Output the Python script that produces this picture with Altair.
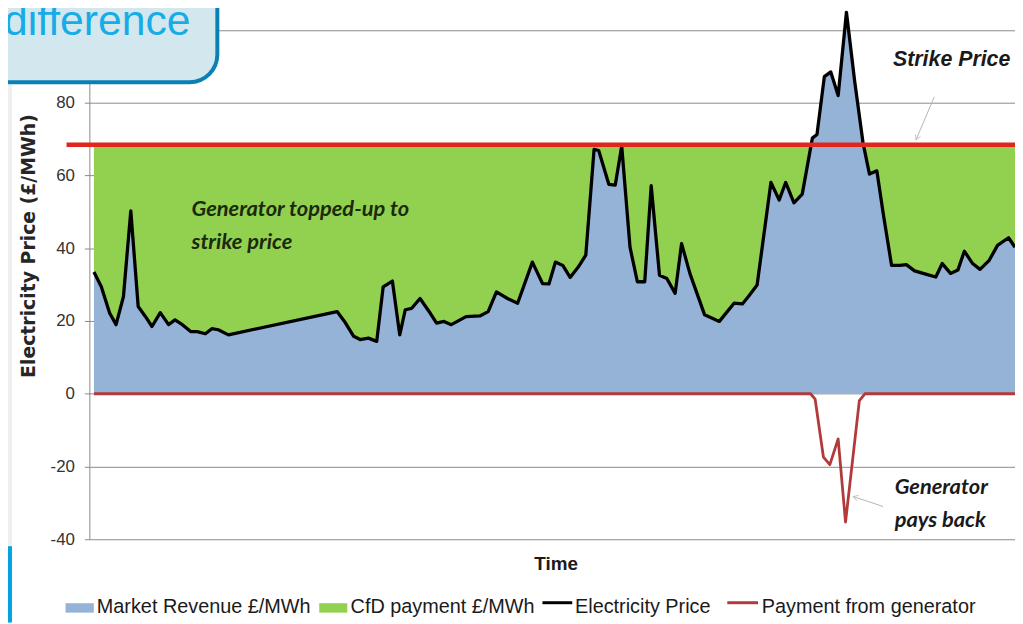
import altair as alt
import pandas as pd
import numpy as np

# ---------------- data ----------------
time = [0, 0.8, 1.7, 2.4, 3.2, 4.0, 4.8, 5.6, 6.3, 7.2, 8.1, 8.8, 9.6, 10.5, 11.2, 12.1, 12.8, 13.5, 14.6,
        26.4, 27.2, 28.2, 28.9, 29.8, 30.7, 31.4, 32.4, 33.2, 33.8,
        34.5, 35.4, 36.5, 37.2, 38.0, 38.8, 40.4, 41.9, 42.8, 43.7,
        44.9, 46.0, 47.6, 48.7, 49.4, 50.1, 50.9, 51.7, 52.6, 53.4,
        54.3, 54.8, 55.9, 56.6, 57.3, 58.2, 59.0, 59.8, 60.5, 61.4,
        62.2, 63.1, 63.8, 64.7, 66.3, 67.9, 69.5, 70.4, 71.1, 72.0,
        73.5, 74.4, 75.1, 76.0, 76.9, 78.0, 78.5, 79.3, 80.0, 80.8,
        81.7, 82.6, 83.5, 84.2, 85.0, 85.7, 86.6, 87.5, 88.2, 89.1,
        90.3, 91.4, 92.1, 93.0, 93.8, 94.5, 95.4, 96.2, 97.2, 98.1,
        99.3, 100.0]
price = [33.5, 29.4, 22.2, 19.0, 26.7, 50.3, 24.0, 21.2, 18.5, 22.3, 19.0, 20.3, 19.0, 17.1, 17.1, 16.5, 17.9, 17.6, 16.2,
         22.6, 19.9, 15.8, 14.9, 15.3, 14.4, 29.4, 31.0, 16.2, 23.1,
         23.5, 26.2, 22.2, 19.4, 19.9, 19.0, 21.2, 21.4, 22.6, 28.0,
         26.2, 24.9, 36.2, 30.3, 30.2, 36.2, 35.3, 32.0, 34.9, 38.1,
         67.2, 66.9, 57.6, 57.4, 68.1, 40.3, 30.8, 30.8, 57.2, 32.6,
         31.7, 27.6, 41.3, 33.1, 21.7, 19.9, 24.9, 24.7, 26.9, 29.9,
         58.1, 53.3, 58.1, 52.5, 54.9, 70.3, 71.3, 87.2, 88.5, 82.0,
         104.9, 85.8, 69.0, 60.4, 61.3, 49.4, 35.3, 35.3, 35.5, 33.8,
         32.9, 32.1, 35.8, 33.1, 34.0, 39.2, 35.8, 34.2, 36.7, 40.8,
         42.9, 40.3]
pay_time = [0, 77.8, 78.3, 79.2, 79.9, 80.8, 81.6, 83.1, 83.7, 100]
pay_value = [0, 0, -1.5, -17.4, -19.5, -12.4, -35.3, -1.9, 0, 0]
STRIKE = 68.5
y_ticks = [-40, -20, 0, 20, 40, 60, 80, 100]
legend_labels = ["Market Revenue £/MWh", "CfD payment £/MWh", "Electricity Price", "Payment from generator"]
legend_colors = ["#95B3D7", "#92D050", "#000000", "#B23A3A"]

# ---------------- layout / style ----------------
W, H = 933, 526
SANS = "Liberation Sans, Arial, sans-serif"
ANN = "Lato, Carlito, Liberation Sans, sans-serif"
GRID = "#8A8A8A"

df = pd.DataFrame({"t": time, "price": price})
df["strike"] = STRIKE
df["low"] = np.minimum(df["price"], STRIKE)
pay = pd.DataFrame({"t": pay_time, "pay": pay_value})
one = pd.DataFrame({"k": [0]})

xs = alt.Scale(domain=[-0.5, 100], nice=False, zero=False)
ys = alt.Scale(domain=[-40, 103.5], nice=False, zero=False)

x_axis = alt.Axis(title="Time", domain=False, ticks=False, labels=False, grid=False,
                  titleX=470, titleY=31, titleAlign="center", titleBaseline="alphabetic",
                  titleFont=SANS, titleFontSize=19, titleFontWeight="bold", titleColor="#1A1A1A")
y_axis = alt.Axis(values=y_ticks, grid=True, gridColor=GRID, gridWidth=1,
                  domainColor=GRID, domainWidth=1, tickColor=GRID, tickSize=5, tickWidth=1,
                  labelPadding=10, labelFont=SANS, labelFontSize=17, labelColor="#333333",
                  labelExpr="datum.value == 100 ? '' : '' + datum.value",
                  title="Electricity Price (£/MWh)", titleFont="DejaVu Sans", titleFontWeight="bold",
                  titleFontSize=19, titleColor="#262626", titleAngle=270, titleX=-61, titleY=230,
                  titleAlign="center", titleBaseline="middle")

def X(field):
    return alt.X(field, scale=xs, axis=x_axis)

def Y(field):
    return alt.Y(field, scale=ys, axis=y_axis)

green = alt.Chart(df).mark_area(color="#92D050", opacity=1).encode(
    x=X("t:Q"), y=Y("low:Q"), y2="strike:Q")
blue = alt.Chart(df).mark_area(color="#95B3D7", opacity=1).encode(
    x=X("t:Q"), y=Y("price:Q"), y2=alt.datum(0))
price_line = alt.Chart(df).mark_line(color="#000000", strokeWidth=3.3, strokeJoin="round").encode(
    x=X("t:Q"), y=Y("price:Q"))
pay_line = alt.Chart(pay).mark_line(color="#B23A3A", strokeWidth=2.8, strokeJoin="round").encode(
    x=X("t:Q"), y=Y("pay:Q"))
strike_rule = alt.Chart(pd.DataFrame({"s": [STRIKE]})).mark_rule(color="#E0261C", strokeWidth=4.5).encode(
    y=Y("s:Q"), x=alt.value(-23), x2=alt.value(W))

# callout box top-left
box = alt.Chart(one).mark_rect(fill="#D3E8EE", stroke="#0A80B4", strokeWidth=4, cornerRadius=28).encode(
    x=alt.value(-160), x2=alt.value(129), y=alt.value(-90), y2=alt.value(65.5))
box_text = alt.Chart(one).mark_text(text="difference", font=SANS, fontSize=43,
                                    color="#17ACE6", align="right", baseline="alphabetic").encode(
    x=alt.value(102), y=alt.value(18))
strip_gray = alt.Chart(one).mark_rect(color="#EFEFEF").encode(
    x=alt.value(-82), x2=alt.value(-78), y=alt.value(68), y2=alt.value(533))
strip_blue = alt.Chart(one).mark_rect(color="#00A3E0").encode(
    x=alt.value(-82), x2=alt.value(-78), y=alt.value(533), y2=alt.value(610))

def label(text, x, y, size, font=ANN, color="#1A1A1A"):
    return alt.Chart(one).mark_text(text=text, font=font, fontSize=size, fontStyle="italic",
                                    fontWeight="bold", color=color, align="left",
                                    baseline="middle").encode(x=alt.value(x), y=alt.value(y))

ann = [
    label("Generator topped-up to", 103, 193, 22, color="#1B2A0C"),
    label("strike price", 103, 226.7, 22, color="#1B2A0C"),
    label("Strike Price", 810, 43, 21.5, font=SANS),
    label("Generator", 811.7, 473, 22),
    label("pays back", 811.7, 506.7, 22),
]

ARROW = "#B4B4B4"
arrows = [
    alt.Chart(one).mark_rule(color=ARROW, strokeWidth=1).encode(
        x=alt.value(851.7), y=alt.value(80), x2=alt.value(833.3), y2=alt.value(123.3)),
    alt.Chart(one).mark_point(shape="M-0.6,1L0,0L0.6,1", filled=False, color=ARROW, size=90,
                              strokeWidth=1, angle=203).encode(x=alt.value(833.3), y=alt.value(123.3)),
    alt.Chart(one).mark_rule(color=ARROW, strokeWidth=1).encode(
        x=alt.value(800), y=alt.value(493), x2=alt.value(770), y2=alt.value(483)),
    alt.Chart(one).mark_point(shape="M-0.6,1L0,0L0.6,1", filled=False, color=ARROW, size=90,
                              strokeWidth=1, angle=288).encode(x=alt.value(770), y=alt.value(483)),
]

# legend (manual, bottom)
LEG_Y = 600
leg = []
sw = [(-24, 4.5), (231.7, 260)]
for i in range(2):
    leg.append(alt.Chart(one).mark_rect(color=legend_colors[i]).encode(
        x=alt.value(sw[i][0]), x2=alt.value(sw[i][1]), y=alt.value(590.5), y2=alt.value(LEG_Y)))
ln = [(456.7, 486.7), (643, 674)]
for i in range(2):
    leg.append(alt.Chart(one).mark_rule(color=legend_colors[i + 2], strokeWidth=3).encode(
        x=alt.value(ln[i][0]), x2=alt.value(ln[i][1]), y=alt.value(590), y2=alt.value(590)))
tx = [7.5, 263.3, 489.5, 677.7]
for i in range(4):
    leg.append(alt.Chart(one).mark_text(text=legend_labels[i], font=SANS, fontSize=20,
                                        color="#1A1A1A", align="left", baseline="alphabetic").encode(
        x=alt.value(tx[i]), y=alt.value(LEG_Y)))

chart = alt.layer(
    green, blue, pay_line, price_line, strike_rule,
    strip_gray, strip_blue, box, box_text, *ann, *arrows, *leg
).properties(
    width=W, height=H,
    autosize=alt.AutoSizeParams(type="none"),
    padding={"left": 82, "top": 7, "right": 0, "bottom": 83},
    background="white",
).configure_view(stroke=None)

chart.save("out.html", embed_options={"renderer": "svg", "actions": False})
